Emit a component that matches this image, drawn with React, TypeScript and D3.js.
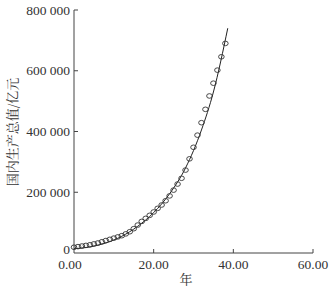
import React from "react";
import * as d3 from "d3";

const years: number[] = [0,1,2,3,4,5,6,7,8,9,10,11,12,13,14,15,16,17,18,19,20,21,22,23,24,25,26,27,28,29,30,31,32,33,34,35,36,37,38];
const gdp: number[] = [19000,21000,23000,25000,27000,30000,33000,37000,41000,45000,49000,53000,57000,63000,70000,80000,92000,104000,114000,124000,135000,147000,158000,172000,188000,207000,227000,246000,273000,310000,348000,388000,429000,473000,517000,559000,602000,646000,690000];
const fitT: number[] = [0,4,8,12,16,20,24,28,32,35,38.6];
const fitV: number[] = [14000,20000,33000,55000,88000,133000,195000,280000,405000,530000,740000];
const xTicks: number[] = [0,20,40,60];
const yTicks: number[] = [0,200000,400000,600000,800000];
const xTitle = "年";
const yTitle = "国内生产总值/亿元";

const W = 335, H = 291;
const m = { left: 74, right: 22, top: 10, bottom: 38 };

const fmtY = (v: number) => d3.format(",")(v).replace(/,/g, " ");

export default function App() {
  const x = d3.scaleLinear().domain([0, 60]).range([m.left, W - m.right]);
  const y = d3.scaleLinear().domain([0, 800000]).range([H - m.bottom, m.top]);
  const line = d3.line<number>()
    .x((_, i) => x(fitT[i]))
    .y((d) => y(d))
    .curve(d3.curveMonotoneX);
  const axisColor = "#444";
  const textColor = "#333";
  const numStyle = { fontFamily: "Liberation Serif, Times New Roman, DejaVu Serif, serif" };
  const cjkStyle = { fontFamily: "Noto Serif CJK SC, Noto Sans CJK SC, sans-serif" };
  return (
    <svg width={W} height={H} style={{ position: "absolute", left: 0, top: 0, background: "#fff" }}>
      {/* axes */}
      <line x1={x(0)} x2={x(60)} y1={y(0)} y2={y(0)} stroke={axisColor} strokeWidth={1} />
      <line x1={x(0)} x2={x(0)} y1={y(0)} y2={y(800000)} stroke={axisColor} strokeWidth={1} />
      {yTicks.map((t) => (
        <g key={"y" + t}>
          {t > 0 && <line x1={x(0)} x2={x(0) + 4} y1={y(t)} y2={y(t)} stroke={axisColor} />}
          <text x={x(0) - 4} y={y(t) - (t === 0 ? 4 : 0)} dy="0.35em" textAnchor="end" fontSize={13.5} style={numStyle} fill={textColor}>
            {fmtY(t)}
          </text>
        </g>
      ))}
      {xTicks.map((t) => (
        <g key={"x" + t}>
          {t > 0 && <line x1={x(t)} x2={x(t)} y1={y(0)} y2={y(0) - 4} stroke={axisColor} />}
          <text x={x(t) - (t === 0 ? 4 : 0)} y={y(0) + 16} textAnchor="middle" fontSize={13.5} style={numStyle} fill={textColor}>
            {d3.format(".2f")(t)}
          </text>
        </g>
      ))}
      <text x={186} y={284} textAnchor="middle" fontSize={13} style={cjkStyle} fill={textColor}>{xTitle}</text>
      <text transform={`translate(17,132) rotate(-90)`} textAnchor="middle" fontSize={13} style={cjkStyle} fill={textColor}>{yTitle}</text>
      {/* fitted curve */}
      <path d={line(fitV) || ""} fill="none" stroke="#222" strokeWidth={1} />
      {/* data points */}
      {gdp.map((v, i) => (
        <ellipse key={i} cx={x(years[i])} cy={y(v)} rx={2.8} ry={2.3} fill="none" stroke="#333" strokeWidth={0.9} />
      ))}
    </svg>
  );
}
